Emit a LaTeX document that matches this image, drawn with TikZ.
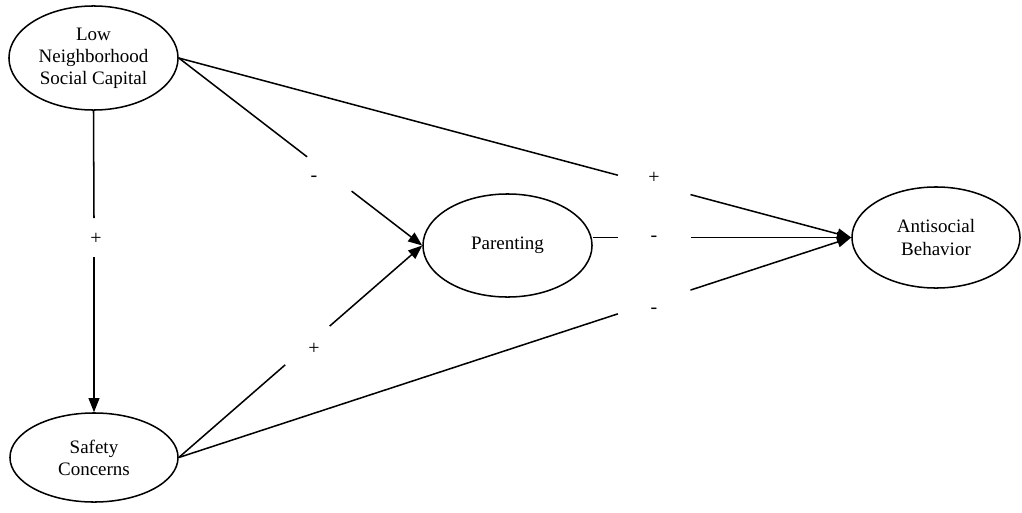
\documentclass[tikz,border=0pt]{standalone}
\usepackage{fontspec}
\setmainfont{Liberation Serif}
\usetikzlibrary{shapes.geometric,arrows.meta,calc}
\begin{document}
\begin{tikzpicture}[x=0.0185cm,y=-0.0185cm,
  var/.style={draw,ellipse,line width=0.8pt,inner sep=0pt,align=center,
    font=\fontsize{10}{11.6}\selectfont},
  conn/.style={line width=0.8pt},
  arr/.style={line width=0.8pt,-{Triangle[length=2.6mm,width=2.0mm]}},
  sign/.style={inner sep=0pt,font=\fontsize{10.5}{11.6}\selectfont}]
\useasboundingbox (0,0) rectangle (1022,512);
\node[var,minimum width=3.1265cm,minimum height=1.924cm] (low) at (93.5,58) {Low\\Neighborhood\\Social Capital};
\node[var,minimum width=3.108cm,minimum height=1.6465cm] (saf) at (94,457.5) {Safety\\Concerns};
\node[var,minimum width=3.1265cm,minimum height=1.9055cm] (par) at (507.5,245.5) {Parenting};
\node[var,minimum width=3.108cm,minimum height=1.8685cm] (ant) at (936,237.5) {Antisocial\\Behavior};
% gap coordinates
\coordinate (a1) at (94,218);
\coordinate (a2) at (94,257);
\coordinate (b1) at ($(low.east)!0.527!(par.west)$);
\coordinate (b2) at ($(low.east)!0.71!(par.west)$);
\coordinate (c1) at ($(low.east)!0.653!(ant.west)$);
\coordinate (c2) at ($(low.east)!0.761!(ant.west)$);
\coordinate (pe) at (par.east |- ant.west);
\coordinate (d1) at (618,0 |- ant.west);
\coordinate (d2) at (691,0 |- ant.west);
\coordinate (e1) at ($(saf.east)!0.437!(par.west)$);
\coordinate (e2) at ($(saf.east)!0.62!(par.west)$);
\coordinate (f1) at ($(saf.east)!0.653!(ant.west)$);
\coordinate (f2) at ($(saf.east)!0.761!(ant.west)$);
% connectors
\draw[conn] (low.south) -- (a1);
\draw[arr] (a2) -- (saf.north);
\draw[conn] (low.east) -- (b1);
\draw[arr] (b2) -- (par.west);
\draw[conn] (low.east) -- (c1);
\draw[arr] (c2) -- (ant.west);
\draw[conn] (pe) -- (d1);
\draw[arr] (d2) -- (ant.west);
\draw[conn] (saf.east) -- (e1);
\draw[arr] (e2) -- (par.west);
\draw[conn] (saf.east) -- (f1);
\draw[arr] (f2) -- (ant.west);
% signs
\node[sign] (s1) at (96,239) {+};
\node[sign] (s2) at (314,179) {-};
\node[sign] (s3) at (314,349) {+};
\node[sign] (s4) at (654,178) {+};
\node[sign] (s5) at (654,239) {-};
\node[sign] (s6) at (654,311) {-};
\end{tikzpicture}
\end{document}
